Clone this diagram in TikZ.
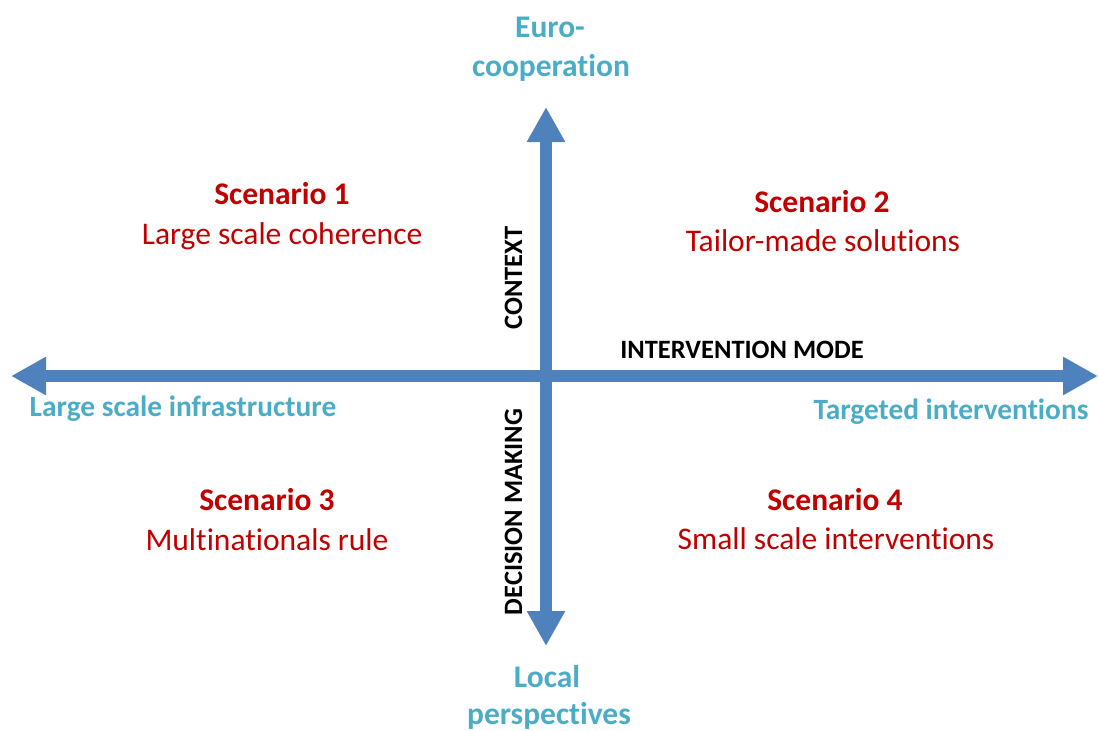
\documentclass[tikz,border=0pt]{standalone}
\usepackage{fontspec}
\setmainfont{Carlito}[Ligatures=NoCommon]
\usetikzlibrary{arrows.meta}
\definecolor{axisblue}{HTML}{4F81BD}
\definecolor{poleteal}{HTML}{4BACC6}
\definecolor{scenred}{HTML}{C00000}
\begin{document}
\begin{tikzpicture}[x=1pt,y=-1pt,
  axis/.style={draw=axisblue,line width=11.5pt,-{Triangle[width=36pt,length=35pt]}},
  pole/.style={text=poleteal,font=\fontsize{29.4}{32}\selectfont\bfseries,anchor=base,inner sep=0pt},
  bigpole/.style={pole,font=\fontsize{31.5}{34}\selectfont\bfseries},
  scentitle/.style={text=scenred,font=\fontsize{31.5}{34}\selectfont\bfseries,anchor=base,inner sep=0pt},
  scentext/.style={text=scenred,font=\fontsize{31.5}{34}\selectfont,anchor=base,inner sep=0pt},
  axlabel/.style={text=black,font=\fontsize{26.5}{28}\selectfont\bfseries,anchor=base,inner sep=0pt}]
\useasboundingbox (0,0) rectangle (1098,731);

% axis end points
\coordinate (center) at (546,376);
\coordinate (west) at (11,376);
\coordinate (east) at (1098,376);
\coordinate (north) at (546,107);
\coordinate (south) at (546,646);

% the two axes
\draw[axis] (center) -- (west);
\draw[axis] (center) -- (east);
\draw[axis] (center) -- (north);
\draw[axis] (center) -- (south);

% poles of the axes
\node[bigpole] (euro1) at (550,37) {Euro-};
\node[bigpole] (euro2) at (551,76) {cooperation};
\node[bigpole] (local1) at (547,687) {Local};
\node[bigpole] (local2) at (549,724) {perspectives};
\node[pole] (infra) at (183,416) {Large scale infrastructure};
\node[pole] (target) at (951,419) {Targeted interventions};

% axis names
\node[axlabel] (mode) at (742,358) {INTERVENTION MODE};
\node[axlabel,rotate=90] (context) at (522,278) {CONTEXT};
\node[axlabel,rotate=90] (decision) at (522,512) {DECISION MAKING};

% scenarios
\node[scentitle] (s1t) at (282,204) {Scenario 1};
\node[scentext] (s1d) at (282,244) {Large scale coherence};
\node[scentitle] (s2t) at (822,212) {Scenario 2};
\node[scentext] (s2d) at (823,251) {Tailor-made solutions};
\node[scentitle] (s3t) at (267,510) {Scenario 3};
\node[scentext] (s3d) at (267,550) {Multinationals rule};
\node[scentitle] (s4t) at (835,510) {Scenario 4};
\node[scentext] (s4d) at (836,549) {Small scale interventions};
\end{tikzpicture}
\end{document}
